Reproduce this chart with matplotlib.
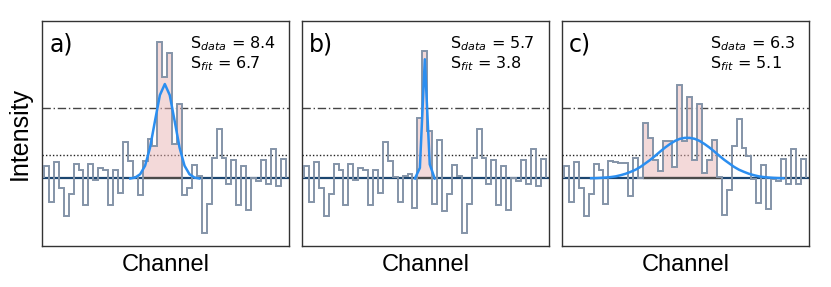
import numpy as np
import matplotlib.pyplot as plt

# channel intensities in units of the noise rms (49 channels per spectrum)
data_a = [0.52, -0.99, 0.69, -0.42, -1.60, -0.64, 0.62, 0.36, -1.13, 0.62,
          -0.07, 0.45, 0.38, -1.13, 0.35, -0.61, 1.55, 0.73, 0.07, -0.72,
          0.76, 1.66, 1.36, 5.80, 4.30, 5.30, 1.45, 3.14, -0.70, -0.42,
          0.55, 0.10, -2.33, -1.06, 0.88, 2.10, 0.88, -0.25, 0.80, -1.13,
          0.52, -1.34, 0.03, -0.11, 0.80, -0.25, 1.23, -0.32, 0.83]
data_b = [0.52, -0.99, 0.69, -0.42, -1.60, -0.64, 0.62, 0.35, -1.13, 0.62,
          -0.07, 0.45, 0.38, -1.13, 0.35, -0.61, 1.55, 0.73, 0.07, -0.99,
          0.10, 0.17, -1.24, 2.55, 5.42, 2.00, -1.10, 1.65, -1.38, -0.64,
          0.55, 0.10, -2.33, -1.06, 0.88, 2.10, 0.88, -0.25, 0.80, -1.13,
          0.52, -1.34, 0.03, -0.11, 0.80, -0.25, 1.23, -0.32, 0.83]
data_c = [0.52, -0.99, 0.69, -0.42, -1.60, -0.64, 0.62, 0.36, -1.06, 0.73,
          0.69, 0.66, 0.66, -0.75, 0.88, 0.00, 2.35, 1.70, 0.80, 0.30,
          1.60, 1.60, 0.50, 3.97, 1.60, 3.43, 0.80, 3.15, 0.25, 0.80,
          1.65, 0.05, -1.55, -0.47, 1.37, 2.53, 1.30, 0.95, -0.04, -1.03,
          0.59, -1.31, -0.04, -0.11, 0.83, -0.25, 1.23, -0.25, 0.83]

# channels counted as signal (shaded), first and one-past-last
window_a = (20, 28)
window_b = (23, 26)
window_c = (16, 32)

# gaussian fit sampled at channel centres
fit_a_ch = list(range(17, 32))
fit_a = [0.0, 0.04, 0.18, 0.54, 1.30, 2.43, 3.53, 4.00, 3.53, 2.43,
         1.30, 0.54, 0.18, 0.04, 0.0]
fit_b_ch = list(range(22, 27))
fit_b = [0.0, 0.45, 5.05, 0.60, 0.0]
fit_c_ch = list(range(5, 45))
fit_c = [0.01, 0.015, 0.025, 0.04, 0.06, 0.09, 0.14, 0.20, 0.28, 0.37,
         0.49, 0.64, 0.79, 0.96, 1.14, 1.31, 1.46, 1.59, 1.68, 1.72,
         1.72, 1.68, 1.59, 1.46, 1.31, 1.14, 0.96, 0.79, 0.64, 0.49,
         0.37, 0.28, 0.20, 0.14, 0.09, 0.06, 0.04, 0.025, 0.015, 0.01]

labels = ['a)', 'b)', 'c)']
s_data = [8.4, 5.7, 6.3]
s_fit = [6.7, 3.8, 5.1]

panels = [(data_a, window_a, fit_a_ch, fit_a),
          (data_b, window_b, fit_b_ch, fit_b),
          (data_c, window_c, fit_c_ch, fit_c)]

W, H = 831, 287
fig = plt.figure(figsize=(W / 100, H / 100), dpi=100)

for i, (vals, win, fch, fval) in enumerate(panels):
    ax = fig.add_axes([(41.7 + 260 * i) / W, 41 / H, 247.6 / W, 225 / H])
    vals = np.array(vals)
    edges = np.arange(len(vals) + 1)

    # noise levels: 1 sigma dotted, 3 sigma dash-dot
    ax.axhline(1, color='#222222', lw=1.0, ls=(0, (1, 1.5)), zorder=1)
    ax.axhline(3, color='#444444', lw=1.0, ls=(0, (6, 2, 1, 2)), zorder=1)
    ax.axhline(0, color='#1c4670', lw=1.6, zorder=2)

    lo, hi = win
    ax.stairs(vals[lo:hi], edges[lo:hi + 1], baseline=0, fill=True,
              color='#e8b4b4', alpha=0.5, lw=0, zorder=3)
    ax.hlines(0, lo, hi, color='#4a4a4a', lw=1.6, zorder=3.5)

    ax.stairs(vals, edges, baseline=0, color='#8494a8', lw=1.4, zorder=4)

    ax.plot(np.array(fch) + 0.5, fval, color='#2b8ef0', lw=1.8, zorder=5)

    ax.set_xlim(-0.47, 49.75)
    ax.set_ylim(-2.86, 6.67)
    ax.set_xticks([])
    ax.set_yticks([])
    for sp in ax.spines.values():
        sp.set_color('#333333')
        sp.set_linewidth(1.0)

    ax.text(0.03, 0.895, labels[i], transform=ax.transAxes, fontsize=17,
            va='center', ha='left')
    ax.text(0.60, 0.900, 'S$_{data}$ = %.1f' % s_data[i], transform=ax.transAxes,
            fontsize=11.5, va='center', ha='left')
    ax.text(0.60, 0.812, 'S$_{fit}$ = %.1f' % s_fit[i], transform=ax.transAxes,
            fontsize=11.5, va='center', ha='left')
    ax.set_xlabel('Channel', fontsize=17, family='Liberation Sans', labelpad=6)

fig.text(0.024, 0.535, 'Intensity', rotation=90, fontsize=18,
         family='Liberation Sans', ha='center', va='center')

fig.savefig('out.png', dpi=100)
